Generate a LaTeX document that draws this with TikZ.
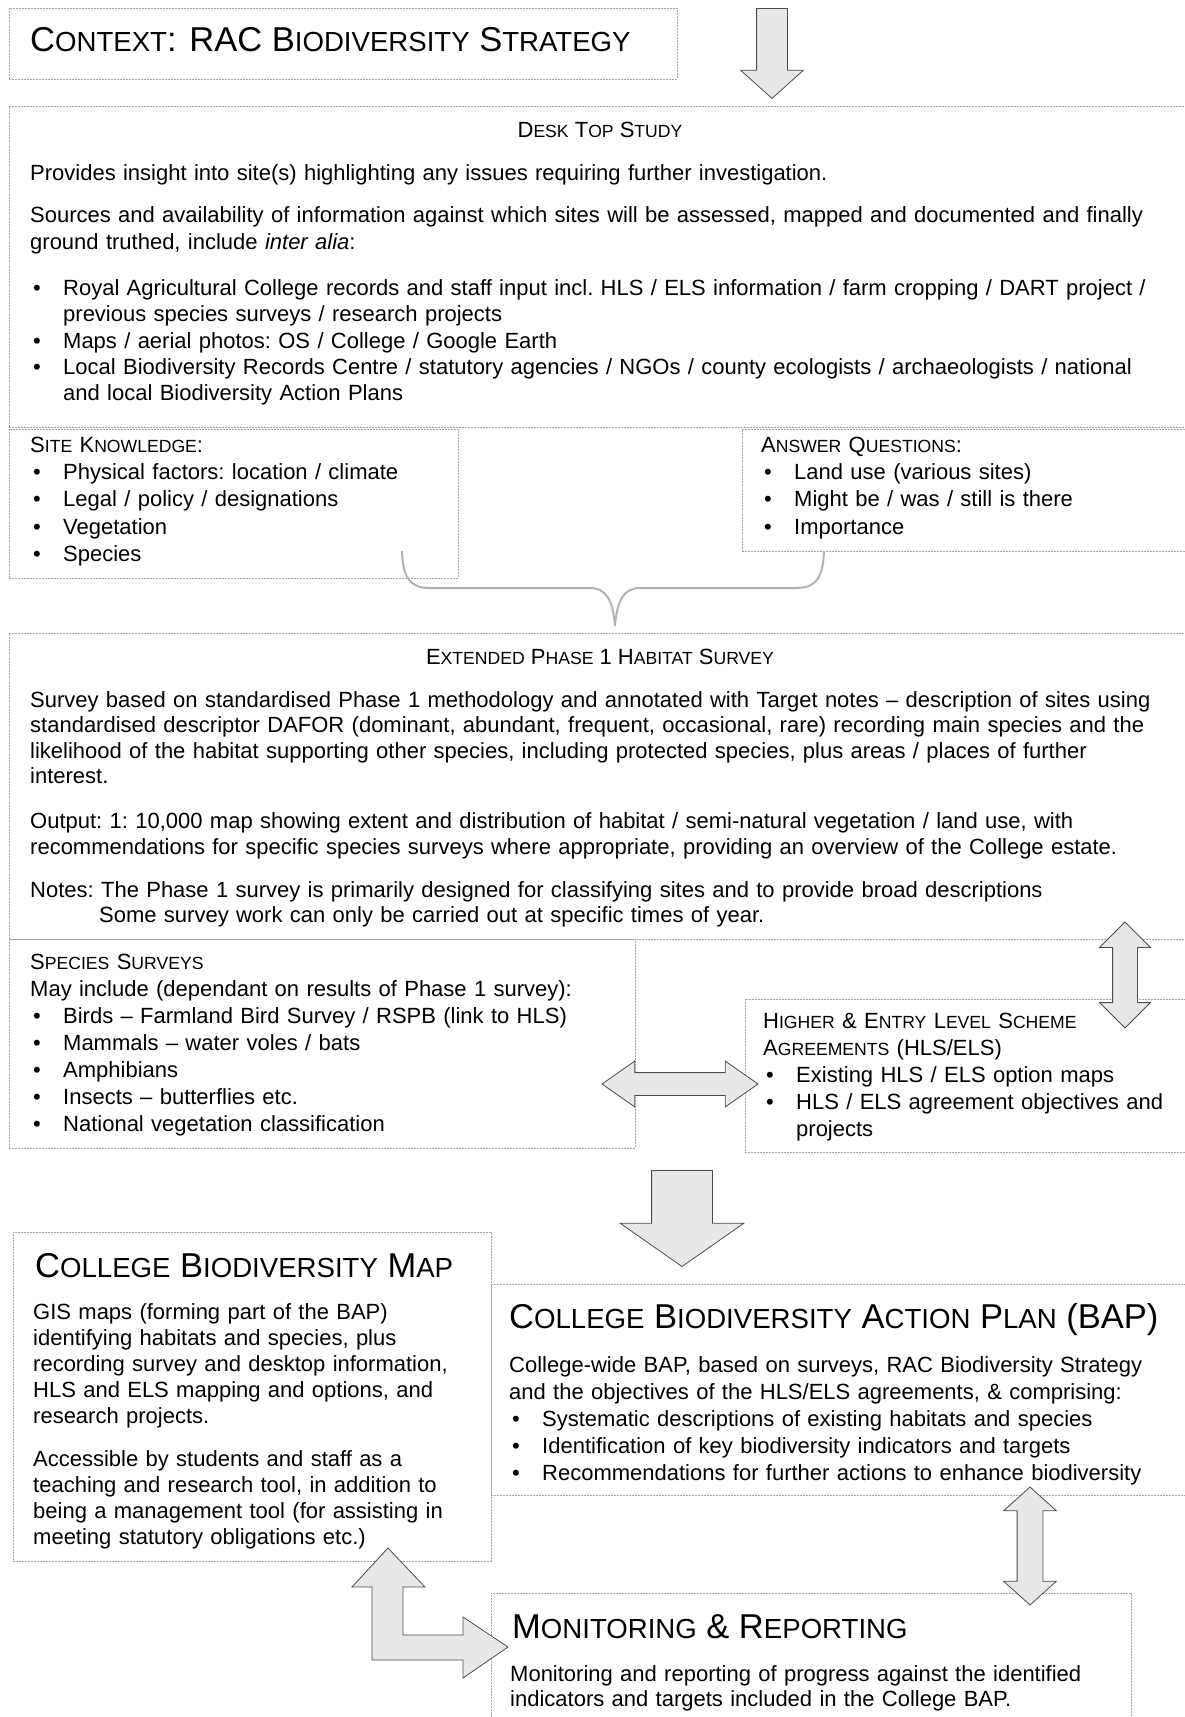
\documentclass[tikz,border=0pt]{standalone}
\usepackage{fontspec}
\setmainfont{Liberation Sans}
\usetikzlibrary{shapes.arrows}

\newcommand\sck[2]{#1\scalebox{0.8}{#2}}
\newcommand\bul{\makebox[33pt][l]{\hspace{3pt}\textbullet}}
\newcommand\ind{\hspace*{33pt}}

\tikzset{
	box/.style={draw=gray!70, line width=0.8pt, dash pattern=on 2pt off 1pt, anchor=north west, inner sep=0pt},
	txt/.style={anchor=base west, align=left, inner sep=0pt, font=\fontsize{22}{26.3}\selectfont\frenchspacing},
	big/.style={anchor=base west, inner sep=0pt, font=\fontsize{34.5}{40}\selectfont},
	blockarrow/.style={draw=gray!60!black, line width=0.8pt, fill=gray!18, inner xsep=0pt},
	brace/.style={draw=gray!60, line width=2pt},
}

\begin{document}
\begin{tikzpicture}[x=1pt, y=-1pt]
	\useasboundingbox (0,0) rectangle (1185,1717);

	% Define the boxes with specific positions
	\node[box, minimum width=668pt, minimum height=71pt] (context) at (9,8) {};
	\node[box, minimum width=1186pt, minimum height=321pt] (desk) at (9,106) {};
	\node[box, minimum width=449pt, minimum height=149pt] (site) at (9,429) {};
	\node[box, minimum width=453pt, minimum height=122pt] (answer) at (742,429) {};
	\node[box, minimum width=1186pt, minimum height=306pt] (phase) at (9,633) {};
	\node[box, minimum width=626pt, minimum height=209pt] (species) at (9,939) {};
	\node[box, minimum width=450pt, minimum height=153pt] (hls) at (745,999) {};
	\node[box, minimum width=478pt, minimum height=329pt] (map) at (13,1232) {};
	\node[box, minimum width=704pt, minimum height=211pt] (bap) at (491,1284) {};
	\node[box, minimum width=640pt, minimum height=140pt] (monitor) at (491,1593) {};

	% Block arrows between the boxes
	\node[blockarrow, single arrow, rotate=-90, minimum height=90pt, inner ysep=15pt,
		single arrow head extend=16pt, single arrow tip angle=96, anchor=tip] (toparrow) at (772,99) {};
	\node[blockarrow, double arrow, rotate=90, minimum height=106pt, inner ysep=12pt,
		double arrow head extend=13pt, double arrow tip angle=90] (hlsarrow) at (1125,975) {};
	\node[blockarrow, double arrow, minimum height=156pt, inner ysep=11pt,
		double arrow head extend=11.5pt, double arrow tip angle=70] (linkarrow) at (680,1084) {};
	\node[blockarrow, single arrow, rotate=-90, minimum height=96pt, inner ysep=30pt,
		single arrow head extend=31.5pt, single arrow tip angle=110, anchor=tip] (downarrow) at (682,1267) {};
	\node[blockarrow, double arrow, rotate=90, minimum height=118pt, inner ysep=12.5pt,
		double arrow head extend=13.5pt, double arrow tip angle=96] (baparrow) at (1030,1546) {};
	\coordinate (lup) at (388,1548);
	\coordinate (lright) at (508,1647);
	\draw[blockarrow] (lup) -- ++(37,39) -- ++(-22,0) -- ++(0,48) -- ++(60,0) -- ++(0,-18) -- (lright)
		-- ++(-45,31) -- ++(0,-18) -- ++(-91,0) -- ++(0,-73) -- ++(-20,0) -- cycle;

	% Brace joining the two small boxes
	\coordinate (brL) at (402,551);
	\coordinate (brR) at (824,551);
	\coordinate (brT) at (615,626);
	\draw[brace] (brL) .. controls (403,578) and (410,588) .. (430,588) -- (590,588)
		.. controls (606,588) and (613,600) .. (brT)
		.. controls (617,600) and (624,588) .. (640,588) -- (796,588)
		.. controls (816,588) and (823,578) .. (brR);

	% Texts
	\node[big] (contexthead) at (30,51) {\sck{C}{ONTEXT}: RAC \sck{B}{IODIVERSITY} \sck{S}{TRATEGY}};

	\node[txt, anchor=base] (deskhead) at (600,137) {\sck{D}{ESK} \sck{T}{OP} \sck{S}{TUDY}};
	\node[txt, text width=1160pt] (desktxt) at (30,180) {Provides insight into site(s) highlighting any issues requiring further investigation.\\[16.5pt]
		Sources and availability of information against which sites will be assessed, mapped and documented and finally\\
		ground truthed, include \textit{inter alia}:\\[20pt]
		\bul Royal Agricultural College records and staff input incl. HLS / ELS information / farm cropping / DART project /\\
		\ind previous species surveys / research projects\\
		\bul Maps / aerial photos: OS / College / Google Earth\\
		\bul Local Biodiversity Records Centre / statutory agencies / NGOs / county ecologists / archaeologists / national\\
		\ind and local Biodiversity Action Plans};

	\node[txt, text width=420pt, font=\fontsize{22}{27.4}\selectfont\frenchspacing] (sitetxt) at (30,452) {\sck{S}{ITE} \sck{K}{NOWLEDGE}:\\
		\bul Physical factors: location / climate\\
		\bul Legal / policy / designations\\
		\bul Vegetation\\
		\bul Species};
	\node[txt, text width=420pt, font=\fontsize{22}{27.4}\selectfont\frenchspacing] (answertxt) at (761,452) {\sck{A}{NSWER} \sck{Q}{UESTIONS}:\\
		\bul Land use (various sites)\\
		\bul Might be / was / still is there\\
		\bul Importance};

	\node[txt, anchor=base] (phasehead) at (600,664) {\sck{E}{XTENDED} \sck{P}{HASE} 1 \sck{H}{ABITAT} \sck{S}{URVEY}};
	\node[txt, text width=1160pt, font=\fontsize{22}{25.5}\selectfont\frenchspacing] (phasetxt) at (30,707) {Survey based on standardised Phase 1 methodology and annotated with Target notes – description of sites using\\
		standardised descriptor DAFOR (dominant, abundant, frequent, occasional, rare) recording main species and the\\
		likelihood of the habitat supporting other species, including protected species, plus areas / places of further\\
		interest.\\[19.5pt]
		Output: 1: 10,000 map showing extent and distribution of habitat / semi-natural vegetation / land use, with\\
		recommendations for specific species surveys where appropriate, providing an overview of the College estate.\\[17.5pt]
		Notes: The Phase 1 survey is primarily designed for classifying sites and to provide broad descriptions\\
		\hspace*{69pt}Some survey work can only be carried out at specific times of year.};

	\node[txt, text width=600pt, font=\fontsize{22}{27}\selectfont\frenchspacing] (speciestxt) at (30,969) {\sck{S}{PECIES} \sck{S}{URVEYS}\\
		May include (dependant on results of Phase 1 survey):\\
		\bul Birds – Farmland Bird Survey / RSPB (link to HLS)\\
		\bul Mammals – water voles / bats\\
		\bul Amphibians\\
		\bul Insects – butterflies etc.\\
		\bul National vegetation classification};
	\node[txt, text width=420pt, font=\fontsize{22}{27}\selectfont\frenchspacing] (hlstxt) at (763,1028) {\sck{H}{IGHER} \& \sck{E}{NTRY} \sck{L}{EVEL} \sck{S}{CHEME}\\
		\sck{A}{GREEMENTS} (HLS/ELS)\\
		\bul Existing HLS / ELS option maps\\
		\bul HLS / ELS agreement objectives and\\
		\ind projects};

	\node[big] (maphead) at (35,1277) {\sck{C}{OLLEGE} \sck{B}{IODIVERSITY} \sck{M}{AP}};
	\node[txt, text width=450pt, font=\fontsize{22}{26}\selectfont\frenchspacing] (maptxt) at (33,1319) {GIS maps (forming part of the BAP)\\
		identifying habitats and species, plus\\
		recording survey and desktop information,\\
		HLS and ELS mapping and options, and\\
		research projects.\\[17pt]
		Accessible by students and staff as a\\
		teaching and research tool, in addition to\\
		being a management tool (for assisting in\\
		meeting statutory obligations etc.)};

	\node[big] (baphead) at (509,1328) {\sck{C}{OLLEGE} \sck{B}{IODIVERSITY} \sck{A}{CTION} \sck{P}{LAN} (BAP)};
	\node[txt, text width=670pt, font=\fontsize{22}{27}\selectfont\frenchspacing] (baptxt) at (509,1372) {College-wide BAP, based on surveys, RAC Biodiversity Strategy\\
		and the objectives of the HLS/ELS agreements, \& comprising:\\
		\bul Systematic descriptions of existing habitats and species\\
		\bul Identification of key biodiversity indicators and targets\\
		\bul Recommendations for further actions to enhance biodiversity};

	\node[big] (monitorhead) at (512,1638) {\sck{M}{ONITORING} \& \sck{R}{EPORTING}};
	\node[txt, text width=610pt, font=\fontsize{22}{25.5}\selectfont\frenchspacing] (monitortxt) at (510,1681) {Monitoring and reporting of progress against the identified\\
		indicators and targets included in the College BAP.};
\end{tikzpicture}
\end{document}
